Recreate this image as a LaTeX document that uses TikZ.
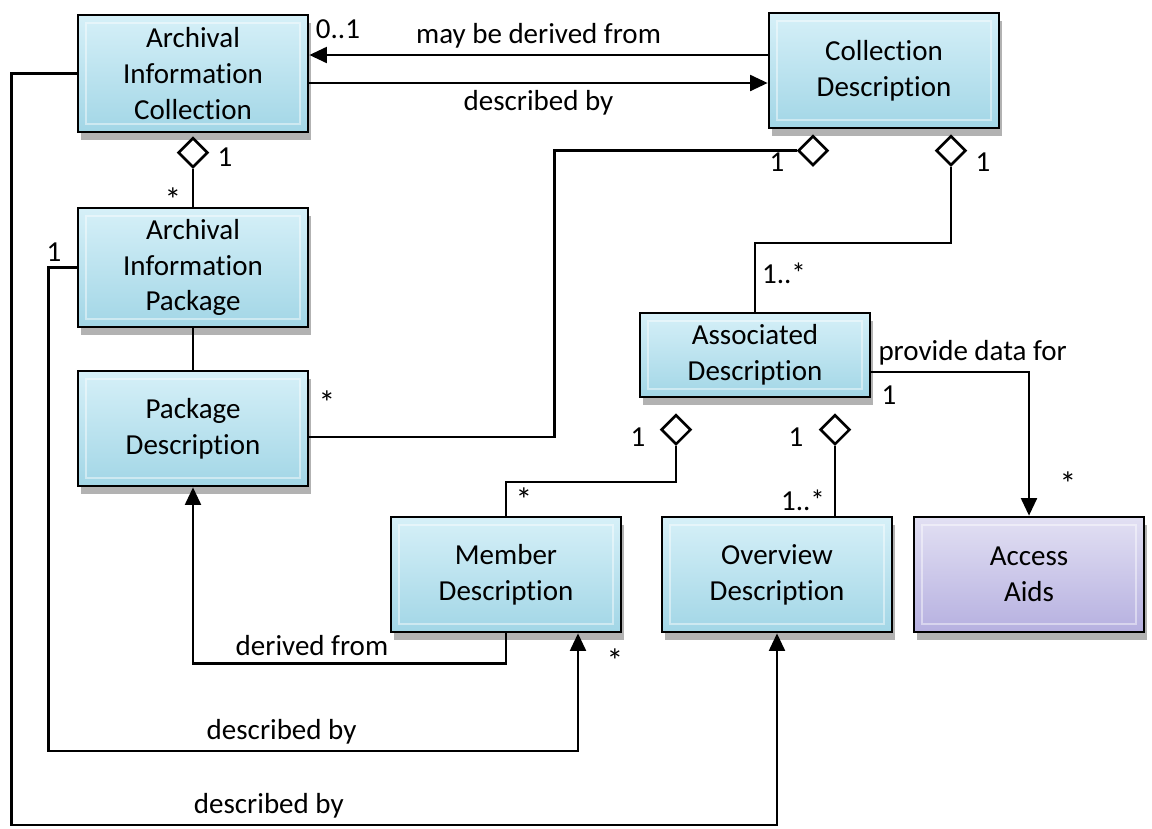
\documentclass[tikz,border=0pt]{standalone}
\usepackage{fontspec}
\setmainfont{Carlito}[Ligatures=NoCommon]
\usetikzlibrary{positioning, arrows.meta, shapes.geometric, shadows}

\definecolor{boxtop}{RGB}{214,240,248}
\definecolor{boxbot}{RGB}{162,214,230}
\definecolor{aidtop}{RGB}{226,224,243}
\definecolor{aidbot}{RGB}{182,176,224}

\begin{document}
\begin{tikzpicture}[
        font=\fontsize{16.5}{20.4}\selectfont,
        box/.style={draw, rectangle, line width=1.5pt, minimum width=4.6cm, minimum height=2.3cm, inner sep=2pt, align=center, top color=boxtop, bottom color=boxbot,
            drop shadow={shadow xshift=0.06cm, shadow yshift=-0.16cm, opacity=0.3, fill=black},
            path picture={\draw[white, opacity=0.45, line width=1.2pt] ([shift={(0.16cm,-0.16cm)}]path picture bounding box.north west) rectangle ([shift={(-0.16cm,0.16cm)}]path picture bounding box.south east);}},
        aidbox/.style={box, top color=aidtop, bottom color=aidbot},
        agg/.style={draw, diamond, line width=1.5pt, fill=white, minimum size=0.6cm, inner sep=0pt},
        arrow/.style={-{Triangle[length=10pt, width=9pt]}, line width=1.5pt},
        link/.style={line width=1.5pt},
        mult/.style={inner sep=1pt},
        star/.style={inner sep=0pt, text height=0.34em, text depth=0pt, font=\fontsize{19}{19}\selectfont}
    ]
        \useasboundingbox (0,0) rectangle (23.04,-16.56);

        \node[box, minimum height=2.34cm] (aic) at (3.86,-1.47) {Archival\\Information\\Collection};
        \node[box] (cd) at (17.68,-1.41) {Collection\\Description};
        \node[box, minimum height=2.38cm] (aip) at (3.86,-5.35) {Archival\\Information\\Package};
        \node[box] (pd) at (3.86,-8.57) {Package\\Description};
        \node[box, minimum height=1.68cm] (ad) at (15.10,-7.10) {Associated\\Description};
        \node[box] (md) at (10.12,-11.49) {Member\\Description};
        \node[box] (od) at (15.54,-11.49) {Overview\\Description};
        \node[aidbox] (aa) at (20.58,-11.49) {Access\\Aids};

        \node[agg, below=0.06cm of aic.south] (aicagg) {};
        \node[agg, below=0.1cm of cd.south, xshift=-1.42cm] (cdagg1) {};
        \node[agg, below=0.1cm of cd.south, xshift=1.34cm] (cdagg2) {};
        \node[agg, below=0.3cm of ad.south, xshift=-1.58cm] (adagg1) {};
        \node[agg, below=0.3cm of ad.south, xshift=1.6cm] (adagg2) {};

        \draw[arrow] (cd.west |- 0,-1.10) -- node[midway, above] (lderiv) {may be derived from} (aic.east |- 0,-1.10);
        \draw[arrow] (aic.east |- 0,-1.66) -- node[midway, below] (ldescr1) {described by} (cd.west |- 0,-1.66);
        \draw[link] (aicagg.south) -- (aip.north);
        \draw[link] (aip) -- (pd);
        \draw[link] (pd.east |- 0,-8.74) -- ++(4.9,0) |- (cdagg1.west);
        \draw[link] (cdagg2.south) -- ++(0,-1.52) -| (ad.north);
        \draw[arrow] (ad.east |- 0,-7.44) -| node[pos=0, above right] (lprov) {provide data for} (aa.north);
        \draw[link] (adagg1.south) -- ++(0,-0.72) -| (md.north);
        \draw[link] (adagg2.south) -- (adagg2.south |- od.north);
        \draw[arrow] (md.south) -- ++(0,-0.6) -| node[pos=0.31, above] (lderiv2) {derived from} (pd.south);
        \coordinate (mdin) at ([xshift=1.44cm]md.south);
        \draw[arrow] (aip.west) -- ++(-0.56,0) -- ++(0,-9.67) -| node[pos=0.22, above] (ldescr2) {described by} (mdin);
        \draw[arrow] (aic.west) -- ++(-1.3,0) -- ++(0,-15.03) -| node[pos=0.168, above] (ldescr3) {described by} (od.south);

        % multiplicities
        \node[mult] (m01) at (6.76,-0.58) {0..1};
        \node[mult] (maic) at (4.50,-3.14) {1};
        \node[star] (maip) at (3.46,-3.94) {\raisebox{-0.33em}{*}};
        \node[mult] (maipl) at (1.08,-5.04) {1};
        \node[star] (mpd) at (6.54,-8.00) {\raisebox{-0.33em}{*}};
        \node[mult] (mcd1) at (15.54,-3.24) {1};
        \node[mult] (mcd2) at (19.66,-3.24) {1};
        \node[mult] (madt) at (15.68,-5.46) {1..*};
        \node[mult] (made) at (17.78,-7.90) {1};
        \node[star] (maa) at (21.36,-9.62) {\raisebox{-0.33em}{*}};
        \node[mult] (mad1) at (12.76,-8.74) {1};
        \node[mult] (mad2) at (15.92,-8.74) {1};
        \node[star] (mmdt) at (10.48,-9.94) {\raisebox{-0.33em}{*}};
        \node[mult] (modt) at (16.06,-10.0) {1..*};
        \node[star] (mmdb) at (12.30,-13.16) {\raisebox{-0.33em}{*}};

    \end{tikzpicture}
\end{document}
